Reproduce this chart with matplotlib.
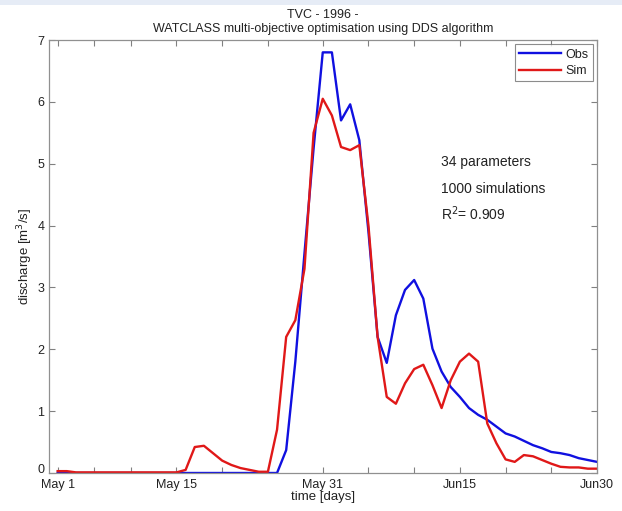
import matplotlib
matplotlib.use("Agg")
import matplotlib.pyplot as plt
from matplotlib.patches import Rectangle

plt.rcParams['font.family'] = ['Liberation Sans', 'DejaVu Sans']

# day index (1 = May 1 ... 60 = Jun 30 on the plotted scale)
days = list(range(1, 61))

obs = [0.0] * 25 + [
    0.37, 1.80, 3.55, 5.25, 6.80, 6.80, 5.70, 5.96, 5.38, 3.90,
    2.20, 1.78, 2.55, 2.96, 3.12, 2.82, 2.01, 1.64, 1.39, 1.23,
    1.05, 0.94, 0.86, 0.75, 0.64, 0.59, 0.52, 0.45, 0.40, 0.34,
    0.32, 0.29, 0.24, 0.21, 0.18]

sim = [0.03, 0.03, 0.01, 0.01, 0.01, 0.01, 0.01, 0.01, 0.01, 0.01,
       0.01, 0.01, 0.01, 0.01, 0.05, 0.42, 0.44, 0.32, 0.20, 0.13,
       0.08, 0.05, 0.02, 0.02, 0.70, 2.20, 2.47, 3.30, 5.50, 6.05,
       5.78, 5.27, 5.22, 5.30, 4.00, 2.20, 1.23, 1.12, 1.45, 1.68,
       1.75, 1.42, 1.05, 1.50, 1.80, 1.93, 1.80, 0.80, 0.48, 0.22,
       0.18, 0.29, 0.27, 0.21, 0.15, 0.10, 0.09, 0.09, 0.07, 0.07]

tick_pos = [1, 5, 9, 14, 19, 24, 30, 35, 40, 45, 50, 55, 60]
tick_lab = ['May 1', '', '', 'May 15', '', '', 'May 31', '', '', 'Jun15', '', '', 'Jun30']
yticks = [0, 1, 2, 3, 4, 5, 6, 7]

W, H = 622, 511
fig = plt.figure(figsize=(W / 100, H / 100), dpi=100)
fig.patches.append(Rectangle((0, 1 - 5 / H), 1, 5 / H, transform=fig.transFigure,
                             facecolor='#e6ecf6', edgecolor='none', zorder=-1))
ax = fig.add_axes([48.5 / W, 1 - 473 / H, (597 - 48.5) / W, (473 - 40) / H])

ax.plot(days, obs, color='#1010e0', lw=1.7, label='Obs')
ax.plot(days, sim, color='#e01818', lw=1.7, label='Sim')

ax.set_xlim(0, 60)
ax.set_ylim(0, 7)
ax.set_xticks(tick_pos)
ax.set_xticklabels(tick_lab)
ax.set_yticks(yticks)
ax.tick_params(direction='in', length=4, width=0.8, color='#808080',
               top=True, right=True, labelsize=9, labelcolor='#222222')
ax.tick_params(axis='x', pad=4)
ax.tick_params(axis='y', pad=3)
ax.get_yticklabels()[0].set_verticalalignment('baseline')
for s in ax.spines.values():
    s.set_color('#909090')
    s.set_linewidth(0.9)

ax.set_xlabel('time [days]', fontsize=9.5, color='#222222', labelpad=0)
ax.set_ylabel('discharge [m$^3$/s]', fontsize=9.5, color='#222222', labelpad=2)
ax.set_title('TVC - 1996 -\nWATCLASS multi-objective optimisation using DDS algorithm',
             fontsize=9, color='#222222', pad=6, linespacing=1.2)

ax.text(0.715, 0.718, '34 parameters', transform=ax.transAxes, fontsize=10,
        color='#222222', va='center', ha='left')
ax.text(0.715, 0.656, '1000 simulations', transform=ax.transAxes, fontsize=10,
        color='#222222', va='center', ha='left')
ax.text(0.715, 0.598, 'R$^2$= 0.909', transform=ax.transAxes, fontsize=10,
        color='#222222', va='center', ha='left')

leg = ax.legend(loc='upper right', fontsize=9, frameon=True, fancybox=False,
                borderpad=0.35, handlelength=3.4, handletextpad=0.3,
                labelspacing=0.35, borderaxespad=0.35)
leg.get_frame().set_edgecolor('#707070')
leg.get_frame().set_linewidth(0.8)
for t in leg.get_texts():
    t.set_color('#222222')

fig.savefig('out.png', dpi=100, facecolor='white')
